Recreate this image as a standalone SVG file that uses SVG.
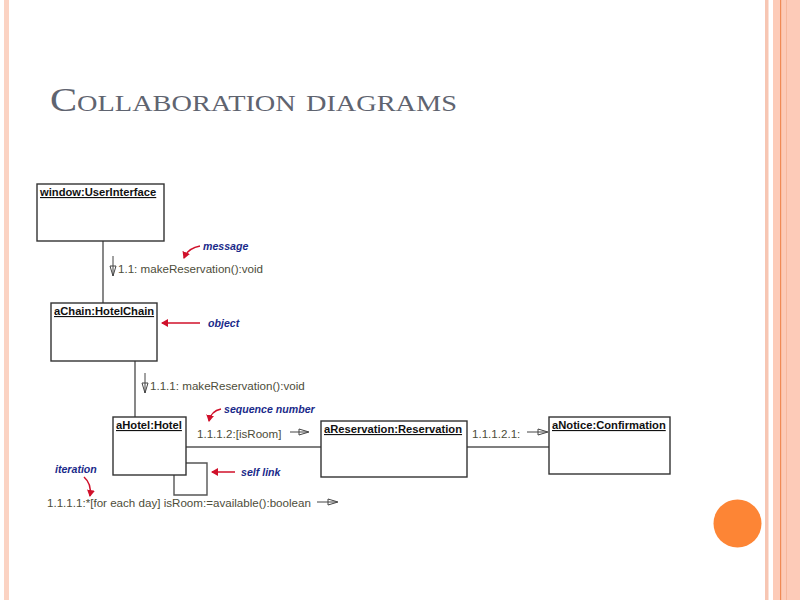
<svg xmlns="http://www.w3.org/2000/svg" width="800" height="600" viewBox="0 0 800 600">
<defs>
<style>
.box{fill:#fff;stroke:#333;stroke-width:1.4}
.hdr{font-family:"Liberation Sans",Arial,sans-serif;font-size:11.2px;font-weight:bold;fill:#111;text-decoration:underline}
.lnk{fill:none;stroke:#555;stroke-width:1.4}
.msg{font-family:"Liberation Sans",Arial,sans-serif;font-size:11.6px;fill:#4d4d3a}
.ann{font-family:"Liberation Sans",Arial,sans-serif;font-size:10.6px;font-weight:bold;font-style:italic;fill:#1a2a8a}
.red{fill:none;stroke:#d0102a;stroke-width:1.5}
.marr{fill:none;stroke:#444;stroke-width:1}
</style>
<marker id="rh" markerWidth="8" markerHeight="8" refX="6" refY="4" orient="auto" markerUnits="userSpaceOnUse"><path d="M0,0 L7,4 L0,8 Z" fill="#d0102a"/></marker>
</defs>
<rect width="800" height="600" fill="#fff"/>
<rect x="4" y="0" width="5" height="600" fill="#fbd3c3"/>
<rect x="765" y="0" width="3.5" height="600" fill="#f7c6b3"/>
<rect x="773" y="0" width="27" height="600" fill="#fdcbb8"/>
<rect x="780" y="0" width="1.2" height="600" fill="#f08a55"/>
<rect x="786" y="0" width="1" height="600" fill="#f6b89d"/>
<circle cx="737.5" cy="523.5" r="24" fill="#fd8535"/>
<text x="50" y="111" font-family="Liberation Serif,'Times New Roman',serif" font-size="33" fill="#5f6470" font-variant="small-caps" textLength="407" lengthAdjust="spacingAndGlyphs">Collaboration diagrams</text>
<g id="connectors">
<line class="lnk" x1="103" y1="241" x2="103" y2="303"/>
<line class="lnk" x1="135" y1="361" x2="135" y2="417"/>
<line class="lnk" x1="186" y1="447" x2="321" y2="447"/>
<line class="lnk" x1="467" y1="447" x2="549" y2="447"/>
<polyline class="lnk" points="186,463 207,463 207,495 174,495 174,475"/>
</g>
<g id="messages">
<path class="marr" d="M113,256 V276 M110,266 L113,276 L116,266 Z"/>
<text class="msg" x="118" y="273">1.1: makeReservation():void</text>
<path class="marr" d="M145,373 V393 M142,383 L145,393 L148,383 Z"/>
<text class="msg" x="150" y="390">1.1.1: makeReservation():void</text>
<text class="msg" x="197" y="438">1.1.1.2:[isRoom]</text>
<path class="marr" d="M290,432 H307 M299,429 L309,432 L299,435 Z"/>
<text class="msg" x="472" y="438">1.1.1.2.1:</text>
<path class="marr" d="M527,432 H546 M538,429 L548,432 L538,435 Z"/>
<text class="msg" x="47" y="507">1.1.1.1:*[for each day] isRoom:=available():boolean</text>
<path class="marr" d="M317,502 H336 M328,499 L338,502 L328,505 Z"/>
</g>
<g id="window">
<rect class="box" x="37" y="184" width="127" height="57"/>
<text class="hdr" x="40" y="196">window:UserInterface</text>
</g>
<g id="aChain">
<rect class="box" x="51" y="303" width="106" height="58"/>
<text class="hdr" x="54" y="315">aChain:HotelChain</text>
</g>
<g id="aHotel">
<rect class="box" x="113" y="417" width="73" height="58"/>
<text class="hdr" x="116" y="429">aHotel:Hotel</text>
</g>
<g id="aReservation">
<rect class="box" x="321" y="421" width="146" height="56"/>
<text class="hdr" x="324" y="433">aReservation:Reservation</text>
</g>
<g id="aNotice">
<rect class="box" x="549" y="417" width="121" height="57"/>
<text class="hdr" x="552" y="429">aNotice:Confirmation</text>
</g>
<g id="annotations">
<text class="ann" x="203" y="250">message</text>
<path class="red" d="M200,246 Q188,248 184,258" marker-end="url(#rh)"/>
<text class="ann" x="208" y="327">object</text>
<line class="red" x1="200" y1="323" x2="162" y2="323" marker-end="url(#rh)"/>
<text class="ann" x="224" y="413">sequence number</text>
<path class="red" d="M221,409 Q211,411 209,421" marker-end="url(#rh)"/>
<text class="ann" x="241" y="476">self link</text>
<line class="red" x1="235" y1="472" x2="212" y2="472" marker-end="url(#rh)"/>
<text class="ann" x="55" y="473">iteration</text>
<path class="red" d="M84,477 Q92,484 90,496" marker-end="url(#rh)"/>
</g>
</svg>
